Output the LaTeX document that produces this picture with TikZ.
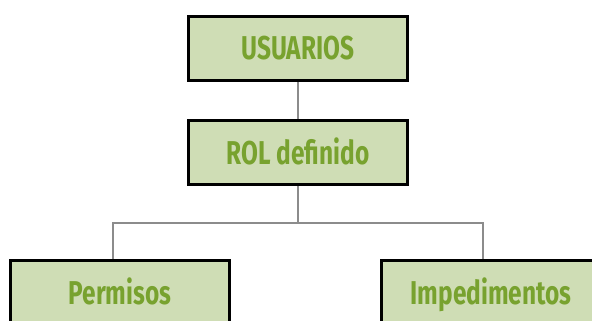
\documentclass[tikz,border=0pt]{standalone}
\usepackage{fontspec}
\newfontfamily\boxfont[FakeStretch=0.74]{Fira Sans}
\definecolor{boxfill}{HTML}{CFDDB5}
\definecolor{boxtext}{HTML}{78A22F}
\definecolor{linkgray}{HTML}{8C8C8C}

\begin{document}
\begin{tikzpicture}[x = 1pt, y = -1pt,
	rolbox/.style = {draw = black, line width = 3pt, fill = boxfill, text = boxtext,
		minimum width = 219pt, minimum height = 64pt, inner sep = 0pt,
		text height = 23pt, text depth = 0pt,
		font = \boxfont\bfseries\fontsize{33}{38}\selectfont},
	link/.style = {draw = linkgray, line width = 2.5pt}]

	\useasboundingbox (0, 0) rectangle (592, 321);

	% Boxes

	\node [rolbox] (usuarios) at (298, 48.5) {USUARIOS};
	\node [rolbox] (rol) at (298, 152.5) {ROL definido};
	\node [rolbox] (permisos) at (120, 292.5) {Permisos};
	\node [rolbox] (impedimentos) at (491, 292.5) {Impedimentos};

	% Links

	\coordinate (split) at (298, 223);
	\draw [link] (usuarios) -- (rol);
	\draw [link] (rol) -- (split);
	\draw [link] (split) -| ([xshift = -7pt] permisos.north);
	\draw [link] (split) -| ([xshift = -8pt] impedimentos.north);

\end{tikzpicture}
\end{document}
